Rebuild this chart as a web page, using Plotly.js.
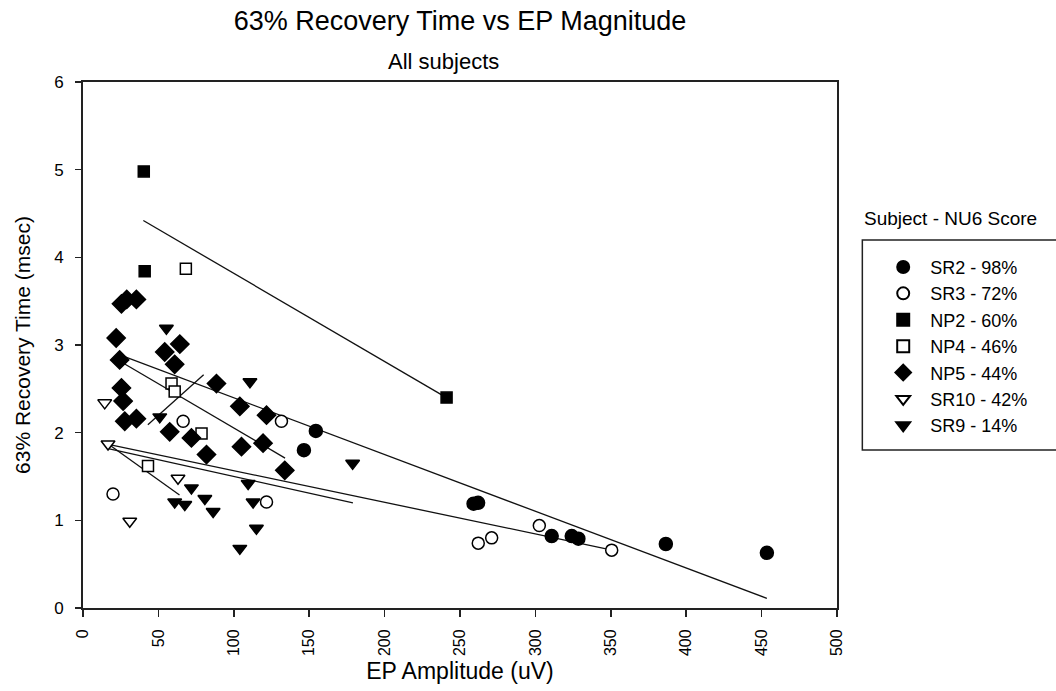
<!DOCTYPE html>
<html><head><meta charset="utf-8">
<script src="https://cdn.plot.ly/plotly-3.0.1.min.js"></script>
<style>html,body{margin:0;padding:0;background:#fff}#chart{width:1056px;height:691px}</style>
</head><body><div id="chart"></div>
<script>
// ---- data ----
const subjectNames = ["SR2 - 98%", "SR3 - 72%", "NP2 - 60%", "NP4 - 46%", "NP5 - 44%", "SR10 - 42%", "SR9 - 14%"];

const sr2X = [146.5, 154.4, 259, 262, 310.8, 324.1, 328.5, 386.5, 453.5];
const sr2Y = [1.80, 2.02, 1.19, 1.20, 0.82, 0.82, 0.79, 0.73, 0.63];

const sr3X = [19.9, 66.4, 121.7, 131.6, 262.1, 271, 302.6, 350.6];
const sr3Y = [1.30, 2.13, 1.21, 2.13, 0.74, 0.80, 0.94, 0.66];

const np2X = [40.3, 40.9, 241.1];
const np2Y = [4.98, 3.84, 2.40];

const np4X = [43.1, 58.7, 60.8, 68.2, 78.6];
const np4Y = [1.62, 2.56, 2.47, 3.87, 1.99];

const np5X = [22, 25.5, 29, 35.4, 54.2, 64.2, 60.8, 24.3, 88.5, 25.5, 26.6, 104, 121.7, 27.7, 35.4, 57.5, 71.9, 105.1, 119.4, 81.9, 133.8];
const np5Y = [3.08, 3.47, 3.52, 3.52, 2.92, 3.01, 2.78, 2.83, 2.56, 2.51, 2.36, 2.30, 2.20, 2.13, 2.16, 2.01, 1.94, 1.84, 1.88, 1.75, 1.57];

const sr10X = [14.4, 16.6, 31, 63];
const sr10Y = [2.34, 1.87, 0.99, 1.48];

const sr9X = [50.9, 55.3, 60.8, 67.5, 71.9, 80.8, 86.3, 104, 109.5, 110.7, 112.8, 115, 178.8];
const sr9Y = [2.18, 3.19, 1.21, 1.18, 1.37, 1.25, 1.10, 0.68, 1.42, 2.58, 1.21, 0.91, 1.65];

// regression line end points (x, y)
const fitNP2X = [40, 241];    const fitNP2Y = [4.42, 2.40];
const fitAllX = [24, 453.5];  const fitAllY = [2.89, 0.11];
const fitNP5X = [24, 134];    const fitNP5Y = [2.82, 1.71];
const fitNP4X = [43, 80];     const fitNP4Y = [2.09, 2.66];
const fitSR10X = [16, 64];    const fitSR10Y = [1.88, 1.29];
const fitSR3X = [16, 354];    const fitSR3Y = [1.87, 0.65];
const fitSR9X = [16, 179];    const fitSR9Y = [1.82, 1.20];

const xTicks = [0, 50, 100, 150, 200, 250, 300, 350, 400, 450, 500];
const yTicks = [0, 1, 2, 3, 4, 5, 6];

// ---- build traces ----
const FONT = "Liberation Sans, Arial, sans-serif";
const fits = [[fitNP2X, fitNP2Y], [fitAllX, fitAllY], [fitNP5X, fitNP5Y], [fitNP4X, fitNP4Y],
              [fitSR10X, fitSR10Y], [fitSR3X, fitSR3Y], [fitSR9X, fitSR9Y]];
const traces = fits.map(f => ({
  x: f[0], y: f[1], type: "scatter", mode: "lines", showlegend: false, hoverinfo: "skip",
  line: {color: "#111", width: 1.3}
}));

const markerSeries = [
  [sr2X, sr2Y, "circle", "#000", 13],
  [sr3X, sr3Y, "circle", "#fff", 12],
  [np2X, np2Y, "square", "#000", 11],
  [np4X, np4Y, "square", "#fff", 11],
  [np5X, np5Y, "diamond", "#000", 14],
  [sr10X, sr10Y, "triangle-down", "#fff", 12],
  [sr9X, sr9Y, "triangle-down", "#000", 12]
];
markerSeries.forEach((s, i) => {
  traces.push({
    x: s[0], y: s[1], type: "scatter", mode: "markers", name: subjectNames[i],
    marker: {symbol: s[2], color: s[3], size: s[4], line: {color: "#000", width: 1.5}}
  });
});

const layout = {
  width: 1056, height: 691,
  paper_bgcolor: "#fff", plot_bgcolor: "#fff",
  margin: {l: 83, r: 219, t: 82, b: 83},
  font: {family: FONT, color: "#000"},
  title: {text: "63% Recovery Time vs EP Magnitude", font: {size: 27, family: FONT},
          x: 0.5, xref: "paper", xanchor: "center", y: 0.970, yanchor: "middle"},
  xaxis: {
    range: [0, 500], tickvals: xTicks, ticktext: xTicks.map(String), tickangle: -90,
    ticks: "outside", ticklen: 7, tickwidth: 1.5, tickcolor: "#222",
    showline: true, linecolor: "#222", linewidth: 2, mirror: true,
    showgrid: false, zeroline: false, tickfont: {size: 16, family: FONT},
    ticklabelstandoff: 6,
    title: {text: "EP Amplitude (uV)", font: {size: 23, family: FONT}, standoff: 8}
  },
  yaxis: {
    range: [0, 6], tickvals: yTicks, ticktext: yTicks.map(String),
    ticks: "outside", ticklen: 6, tickwidth: 1.5, tickcolor: "#222",
    showline: true, linecolor: "#222", linewidth: 2, mirror: true,
    showgrid: false, zeroline: false, tickfont: {size: 17, family: FONT},
    ticklabelstandoff: 8,
    title: {text: "63% Recovery Time (msec)", font: {size: 21, family: FONT}, standoff: 18}
  },
  legend: {
    x: 1.052, xanchor: "left", y: 0.683, yanchor: "top",
    bgcolor: "rgba(0,0,0,0)", borderwidth: 0, itemwidth: 44, itemsizing: "constant",
    font: {size: 18, family: FONT}, traceorder: "normal", itemclick: false
  },
  shapes: [{
    type: "rect", xref: "paper", yref: "paper",
    x0: 1.0336, x1: 1.40, y0: 0.3006, y1: 0.6994,
    line: {color: "#222", width: 1.5}, fillcolor: "rgba(0,0,0,0)"
  }],
  annotations: [
    {text: "All subjects", xref: "paper", yref: "paper", x: 0.478, y: (608 - 61) / 526,
     xanchor: "center", yanchor: "middle", showarrow: false, font: {size: 22, family: FONT}},
    {text: "Subject - NU6 Score", xref: "paper", yref: "paper", x: 1.0336, y: (608 - 218) / 526,
     xanchor: "left", yanchor: "middle", showarrow: false, font: {size: 19, family: FONT}}
  ]
};

Plotly.newPlot("chart", traces, layout, {displayModeBar: false, staticPlot: true});
</script>
</body></html>
